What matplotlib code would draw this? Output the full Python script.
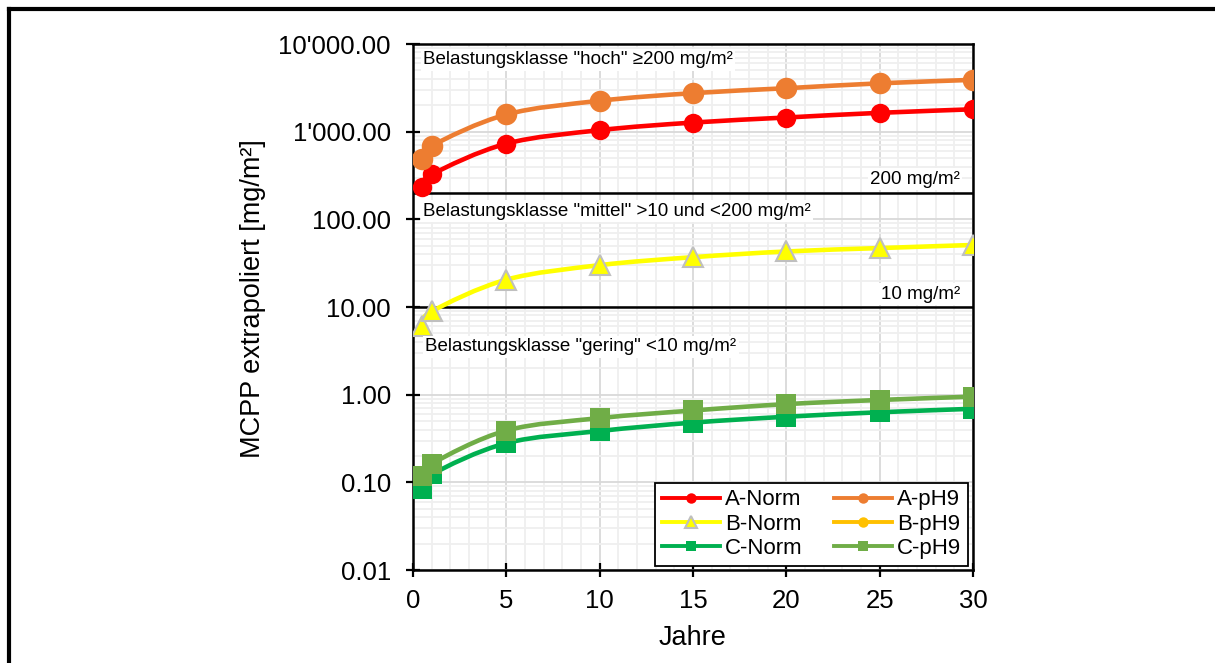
import numpy as np
import matplotlib
matplotlib.use("Agg")
import matplotlib.pyplot as plt
from matplotlib.path import Path
from matplotlib.patches import PathPatch
from matplotlib.lines import Line2D
from matplotlib.ticker import FixedLocator, FuncFormatter, MultipleLocator, NullFormatter

plt.rcParams['font.family'] = ['Liberation Sans', 'DejaVu Sans']

# Werte
jahre = [0.5, 1, 5, 10, 15, 20, 25, 30]
a_norm = [233, 325, 730, 1040, 1270, 1450, 1640, 1800]
a_ph9 = [490, 690, 1570, 2250, 2750, 3130, 3560, 3900]
b_norm = [6.1, 8.9, 20.5, 30, 37, 43, 47, 51]
b_ph9 = []
c_norm = [0.083, 0.123, 0.28, 0.385, 0.48, 0.56, 0.63, 0.69]
c_ph9 = [0.117, 0.163, 0.39, 0.54, 0.66, 0.78, 0.87, 0.95]

grenzen = [200, 10]
grenz_text = ['200 mg/m²', '10 mg/m²']
klassen = ['Belastungsklasse "hoch" ≥200 mg/m²',
           'Belastungsklasse "mittel" >10 und <200 mg/m²',
           'Belastungsklasse "gering" <10 mg/m²']
y_ticks = [0.01, 0.1, 1, 10, 100, 1000, 10000]

serien = [
    ('A-Norm', a_norm, '#FF0000', 'o', 14, '#FF0000'),
    ('A-pH9', a_ph9, '#ED7D31', 'o', 15.5, '#ED7D31'),
    ('B-Norm', b_norm, '#FFFF00', '^', 14, '#BFBFBF'),
    ('B-pH9', b_ph9, '#FFC000', 'o', 14, '#FFC000'),
    ('C-Norm', c_norm, '#00B050', 's', 14, '#00B050'),
    ('C-pH9', c_ph9, '#70AD47', 's', 14, '#70AD47'),
]


def smooth_line(ax, x, y, color, lw, z):
    # Excel-artige geglaettete Linie (Bezier durch die Punkte, in log-Raum)
    px = np.array(x, float)
    py = np.log10(np.array(y, float))
    n = len(px)
    verts = [(px[0], py[0])]
    codes = [Path.MOVETO]
    for i in range(n - 1):
        i0 = max(i - 1, 0)
        i3 = min(i + 2, n - 1)
        c1 = (px[i] + (px[i + 1] - px[i0]) / 6, py[i] + (py[i + 1] - py[i0]) / 6)
        c2 = (px[i + 1] - (px[i3] - px[i]) / 6, py[i + 1] - (py[i3] - py[i]) / 6)
        verts += [c1, c2, (px[i + 1], py[i + 1])]
        codes += [Path.CURVE4] * 3
    verts = [(vx, 10 ** vy) for vx, vy in verts]
    ax.add_patch(PathPatch(Path(verts, codes), fill=False, edgecolor=color,
                           lw=lw, capstyle='round', joinstyle='round', zorder=z))


fig = plt.figure(figsize=(12.15, 6.63), dpi=100, facecolor='w')
ax = fig.add_axes([413 / 1215, 1 - 570 / 663, 560 / 1215, 526 / 663])
ax.set_yscale('log')
ax.set_xlim(0, 30)
ax.set_ylim(0.01, 10000)

ax.xaxis.set_major_locator(MultipleLocator(5))
ax.xaxis.set_minor_locator(MultipleLocator(1))
ax.yaxis.set_major_locator(FixedLocator(y_ticks))
minors = [m * 10.0 ** e for e in range(-2, 4) for m in range(2, 10)]
ax.yaxis.set_minor_locator(FixedLocator(minors))
ax.yaxis.set_minor_formatter(NullFormatter())
ax.yaxis.set_major_formatter(FuncFormatter(lambda v, p: f"{v:,.2f}".replace(',', "'")))

ax.grid(True, which='major', color='#D9D9D9', lw=1.3, zorder=0)
ax.grid(True, which='minor', color='#EFEFEF', lw=1.3, zorder=0)
ax.set_axisbelow(True)
ax.tick_params(which='major', direction='inout', length=10, width=1.6, labelsize=18.5, color='black')
ax.tick_params(axis='y', which='major', pad=11)
ax.tick_params(axis='x', which='major', pad=9)
ax.tick_params(which='minor', length=0)
for s in ax.spines.values():
    s.set_linewidth(1.8)
    s.set_color('black')

for g in grenzen:
    ax.axhline(g, color='black', lw=1.8, zorder=2)

handles = {}
for k, (name, werte, col, mk, ms, ec) in enumerate(serien):
    if len(werte) > 0:
        smooth_line(ax, jahre, werte, col, 3.3, 3 + 2 * k)
        ax.plot(jahre, werte, ls='none', marker=mk, ms=ms, mfc=col, mec=ec,
                mew=1.5 if mk == '^' else 0, zorder=4 + 2 * k)
    handles[name] = Line2D([], [], color=col, lw=2.8, marker=mk, ms=7.5 if mk != '^' else 8.5,
                           mfc=col, mec=ec, mew=1.5 if mk == '^' else 0, label=name)

box = dict(facecolor='white', edgecolor='none', pad=1.5)
ax.text(0.018, 0.9696, klassen[0], transform=ax.transAxes, fontsize=13.5, va='center', ha='left', bbox=box, zorder=20)
ax.text(0.018, 0.6825, klassen[1], transform=ax.transAxes, fontsize=13.5, va='center', ha='left', bbox=box, zorder=20)
ax.text(0.022, 0.424, klassen[2], transform=ax.transAxes, fontsize=13.5, va='center', ha='left', bbox=box, zorder=20)
ax.text(0.977, 0.7433, grenz_text[0], transform=ax.transAxes, fontsize=13.5, va='center', ha='right', bbox=box, zorder=20)
ax.text(0.977, 0.5247, grenz_text[1], transform=ax.transAxes, fontsize=13.5, va='center', ha='right', bbox=box, zorder=20)

# Reihenfolge so, dass die Legende zeilenweise gefuellt aussieht
order = ['A-Norm', 'B-Norm', 'C-Norm', 'A-pH9', 'B-pH9', 'C-pH9']
leg = ax.legend(handles=[handles[n] for n in order], ncol=2, loc='lower right',
                bbox_to_anchor=(0.991, 0.008), borderaxespad=0, fontsize=16, frameon=True,
                fancybox=False, framealpha=1, edgecolor='black', handlelength=2.6,
                handletextpad=0.25, columnspacing=1.4, labelspacing=0.15, borderpad=0.3)
leg.get_frame().set_linewidth(1.3)
leg.set_zorder(30)

ax.set_xlabel('Jahre', fontsize=19.5)
ax.set_ylabel('MCPP extrapoliert [mg/m²]', fontsize=19.5)
ax.xaxis.set_label_coords(0.5, -0.105)
ax.yaxis.set_label_coords(-0.262, 0.515)

# Rahmen um das Diagramm (oben und links)
fig.add_artist(Line2D([0.0074, 1.0], [1 - 8.7 / 663, 1 - 8.7 / 663], transform=fig.transFigure,
                      color='black', lw=3, solid_capstyle='projecting'))
fig.add_artist(Line2D([0.0074, 0.0074], [0.0, 1 - 8.7 / 663], transform=fig.transFigure,
                      color='black', lw=3, solid_capstyle='projecting'))

fig.savefig('out.png', dpi=100)
